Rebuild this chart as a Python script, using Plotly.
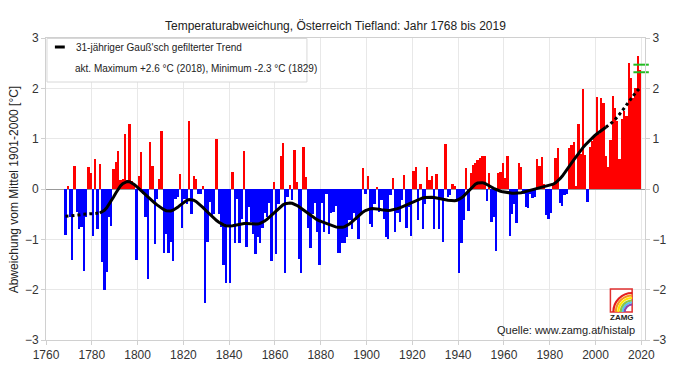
import numpy as np
import plotly.graph_objects as go

# ---------------- data ----------------
years = list(range(1768, 2020))
anomaly = [
    -0.91, 0.06, -0.55, -1.41, 0.46, -0.45, -0.80, -0.75, -1.62, -0.55,   # 1768-1777
    0.43, 0.32, -0.93, 0.59, -0.80, 0.50, -1.46, -2.00, -1.64, -0.55,     # 1778-1787
    -0.73, 0.39, 0.54, 0.75, 0.18, 0.20, 1.09, 0.18, 1.29, 0.15,          # 1788-1797
    0.10, -1.41, 0.26, 0.74, -0.10, -0.55, -1.78, 0.93, 0.46, -1.10,      # 1798-1807
    -0.20, 0.20, 1.16, -1.28, -0.90, -1.28, -1.05, -1.43, -0.20, -0.15,   # 1808-1817
    0.29, -0.77, -0.20, -0.30, 1.35, -0.50, 0.26, 0.20, -0.10, -0.10,     # 1818-1827
    0.06, -2.26, -1.05, -0.25, -0.55, -0.50, 0.99, -0.50, -0.75, -1.50,   # 1828-1837
    -1.86, -0.75, -1.87, 0.34, -1.08, -0.20, -1.08, -0.60, 0.76, -1.15,   # 1838-1847
    -0.35, -0.65, -0.90, -1.30, -0.95, -1.08, -0.78, -0.48, -0.55, -0.28, # 1848-1857
    -1.44, 0.13, -1.29, -0.30, 0.66, 0.92, -1.66, -0.15, 0.08, -0.22,     # 1858-1867
    0.78, 0.13, -1.40, -1.66, 0.83, 0.23, -0.78, -1.18, -0.50, -0.28,     # 1868-1877
    -0.85, -1.50, -0.28, -0.85, -0.10, -0.90, -0.48, -0.45, -0.33, -1.27, # 1878-1887
    -1.27, -1.07, -1.08, -0.95, -0.62, -0.80, -0.48, -0.62, -1.00, -0.50, # 1888-1897
    0.41, -0.10, 0.25, -0.70, -0.75, -0.30, 0.03, -0.45, -0.22, -0.60,    # 1898-1907
    -0.95, -1.00, -0.12, 0.21, -0.85, -0.48, -0.65, -0.22, 0.28, -0.78,   # 1908-1917
    -0.35, -0.93, 0.36, 0.43, -0.62, 0.10, -0.80, -0.30, 0.43, 0.18,      # 1918-1927
    0.25, -0.80, 0.30, -0.80, -0.20, -1.05, 0.90, -0.15, -0.12, 0.10,     # 1928-1937
    0.05, -0.22, -1.66, -1.07, -0.62, 0.41, -0.43, 0.31, 0.48, 0.52,      # 1938-1947
    0.58, 0.61, 0.66, 0.66, -0.23, 0.32, -0.65, -0.55, -1.23, 0.32,       # 1948-1957
    0.34, 0.52, 0.21, 0.66, -0.93, -0.50, -0.30, -0.67, 0.52, 0.43,       # 1958-1967
    -0.10, -0.35, -0.38, -0.10, -0.17, -0.15, 0.59, 0.46, 0.63, 0.10,     # 1968-1977
    -0.52, -0.60, -0.48, 0.10, 0.61, 0.81, -0.28, -0.34, -0.12, -0.10,    # 1978-1987
    0.81, 0.87, 0.94, 0.05, 1.30, 0.70, 1.98, 0.68, -0.25, 0.84,          # 1988-1997
    0.95, 1.05, 1.83, 1.10, 1.81, 1.70, 0.65, 0.44, 0.97, 1.85,           # 1998-2007
    1.60, 1.35, 0.60, 1.40, 1.55, 1.45, 2.50, 2.20, 1.80, 2.00,           # 2008-2017
    2.64, 2.36,                                                           # 2018-2019
]
assert len(anomaly) == len(years)

green_marks = [2.47, 2.32]
green_year = 2019.9

title_text = "Temperaturabweichung, Österreich Tiefland: Jahr 1768 bis 2019"
ytitle_text = "Abweichung vom Mittel 1901-2000 [°C]"
legend_trend = "31-jähriger Gauß'sch gefilterter Trend"
legend_extreme = "akt. Maximum +2.6 °C (2018), Minimum -2.3 °C (1829)"
source_text = "Quelle: www.zamg.at/histalp"
x_ticks = list(range(1760, 2021, 20))
y_ticks = [-3, -2, -1, 0, 1, 2, 3]

# ---------------- 31-year Gaussian filter ----------------
vals = np.array(anomaly, dtype=float)
half = 15
sigma = 31 / 6
k = np.arange(-half, half + 1)
w = np.exp(-0.5 * (k / sigma) ** 2)
n = len(vals)
trend = np.empty_like(vals)
for i in range(n):
    lo, hi = max(0, i - half), min(n, i + half + 1)
    ww = w[(lo - i + half):(hi - i + half)]
    trend[i] = np.sum(ww * vals[lo:hi]) / np.sum(ww)

yrs = np.array(years)
xc = yrs + 0.5  # bar centres (each bar spans year .. year+1)

# ---------------- figure ----------------
W, H = 678, 381
L, R, T, B = 46, 26, 38, 41
pw, ph = W - L - R, H - T - B
def px(x):
    return (x - L) / pw
def py(y):
    return (H - B - y) / ph

FONT = "Liberation Sans, Arial, sans-serif"
colors = ["#ff0000" if v >= 0 else "#0000ff" for v in anomaly]

fig = go.Figure()
fig.add_trace(go.Bar(x=years, y=anomaly, width=1.0, offset=0,
                     marker=dict(color=colors, line=dict(width=0)),
                     showlegend=False))
fig.add_trace(go.Scatter(x=xc[:half + 1], y=trend[:half + 1], mode="lines",
                         line=dict(color="black", width=3, dash="dot"), showlegend=False))
fig.add_trace(go.Scatter(x=xc[n - half - 1:], y=trend[n - half - 1:], mode="lines",
                         line=dict(color="black", width=3, dash="dot"), showlegend=False))
fig.add_trace(go.Scatter(x=xc[half:n - half], y=trend[half:n - half], mode="lines",
                         line=dict(color="black", width=3), showlegend=False))
fig.add_trace(go.Scatter(x=[green_year] * len(green_marks), y=green_marks, mode="markers",
                         marker=dict(symbol="line-ew", size=11,
                                     line=dict(color="#22bb22", width=2)),
                         yaxis="y2", cliponaxis=False, showlegend=False))

grid = "#e8e8e8"
fig.update_layout(
    width=W, height=H,
    margin=dict(l=L, r=R, t=T, b=B),
    paper_bgcolor="white", plot_bgcolor="white",
    bargap=0,
    font=dict(family=FONT, size=12, color="#333333"),
    xaxis=dict(range=[1760, 2021.6], tickvals=x_ticks, showgrid=True, gridcolor=grid,
               zeroline=False, showline=True, linecolor="#d0d0d0", mirror=True,
               ticks="outside", ticklen=4, tickcolor="#d0d0d0",
               tickfont=dict(size=12, color="#333333")),
    yaxis=dict(range=[-3, 3], tickvals=y_ticks, showgrid=True, gridcolor=grid,
               zeroline=True, zerolinecolor="#999999", zerolinewidth=1,
               showline=True, linecolor="#d0d0d0", mirror=True,
               ticks="outside", ticklen=4, tickcolor="#d0d0d0",
               tickfont=dict(size=12, color="#333333")),
    yaxis2=dict(range=[-3, 3], tickvals=y_ticks, overlaying="y", side="right",
                showgrid=False, zeroline=False, ticks="outside", ticklen=4,
                tickcolor="#d0d0d0", tickfont=dict(size=12, color="#333333")),
)

shapes = []
# legend box
shapes.append(dict(type="rect", xref="paper", yref="paper",
                   x0=px(47), x1=px(310), y0=py(82), y1=py(38.5),
                   fillcolor="white", line=dict(color="#d8d8d8", width=1), layer="above"))
shapes.append(dict(type="line", xref="paper", yref="paper",
                   x0=px(55), x1=px(65), y0=py(47), y1=py(47),
                   line=dict(color="black", width=3), layer="above"))
# ZAMG logo
lx0, lx1, ly0, ly1 = 617, 639, 289, 312
shapes.append(dict(type="rect", xref="paper", yref="paper",
                   x0=px(lx0), x1=px(lx1), y0=py(ly1), y1=py(ly0),
                   line=dict(color="#e03030", width=1.5), layer="above"))
kk = 0.5523
cx, cy = lx1, ly1
for r, c in zip([19, 16.5, 14, 11.5, 9.5, 7.5],
                ["#e41e1e", "#f7941d", "#ffe600", "#8dc63f", "#5bc0eb", "#8e44ad"]):
    pts = [(cx - r, cy), (cx - r, cy - kk * r), (cx - kk * r, cy - r), (cx, cy - r)]
    p = [(px(a), py(b)) for a, b in pts]
    path = "M {:.5f},{:.5f} C {:.5f},{:.5f} {:.5f},{:.5f} {:.5f},{:.5f}".format(
        p[0][0], p[0][1], p[1][0], p[1][1], p[2][0], p[2][1], p[3][0], p[3][1])
    shapes.append(dict(type="path", xref="paper", yref="paper", path=path,
                       line=dict(color=c, width=2.2), layer="above"))
fig.update_layout(shapes=shapes)

ann = [
    dict(text=title_text, x=px(339), y=py(26), xref="paper", yref="paper",
         xanchor="center", yanchor="middle", showarrow=False,
         font=dict(size=12, color="#222222")),
    dict(text=ytitle_text, x=px(14), y=py(189), xref="paper", yref="paper",
         xanchor="center", yanchor="middle", textangle=-90, showarrow=False,
         font=dict(size=12, color="#222222")),
    dict(text=legend_trend, x=px(74), y=py(47), xref="paper", yref="paper",
         xanchor="left", yanchor="middle", showarrow=False,
         font=dict(size=10, color="#222222")),
    dict(text=legend_extreme, x=px(73), y=py(69), xref="paper", yref="paper",
         xanchor="left", yanchor="middle", showarrow=False,
         font=dict(size=10, color="#222222")),
    dict(text="<b>ZAMG</b>", x=px(628.5), y=py(317), xref="paper", yref="paper",
         xanchor="center", yanchor="middle", showarrow=False,
         font=dict(size=8, color="#222222")),
    dict(text=source_text, x=px(644), y=py(330), xref="paper", yref="paper",
         xanchor="right", yanchor="middle", showarrow=False,
         font=dict(size=11, color="#222222")),
]
fig.update_layout(annotations=ann)

fig.write_html("out.html",
               config={"displayModeBar": False, "staticPlot": True},
               post_script="document.body.style.margin='0';document.body.style.padding='0';")
